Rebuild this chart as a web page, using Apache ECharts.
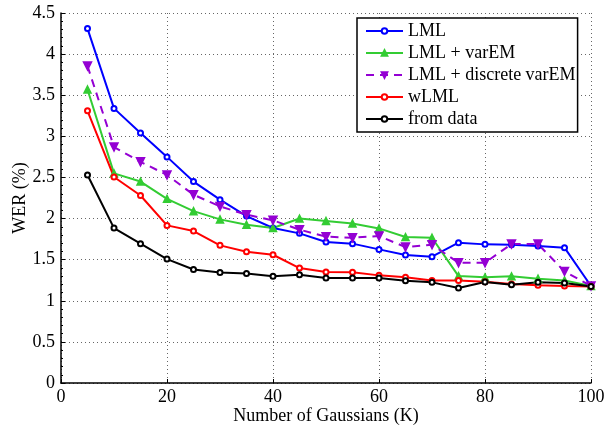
<!DOCTYPE html>
<html><head><meta charset="utf-8">
<script src="https://cdn.jsdelivr.net/npm/echarts@6/dist/echarts.min.js"></script>
<style>html,body{margin:0;padding:0;background:#fff}#c{width:606px;height:425px}</style>
</head><body><div id="c"></div>
<script>
const xs = [5,10,15,20,25,30,35,40,45,50,55,60,65,70,75,80,85,90,95,100];
const lml = [4.31,3.34,3.04,2.75,2.45,2.23,2.03,1.885,1.82,1.715,1.695,1.625,1.556,1.536,1.707,1.686,1.682,1.666,1.646,1.18];
const lmlVarEM = [3.57,2.55,2.45,2.24,2.09,1.99,1.925,1.885,2.0,1.97,1.94,1.88,1.775,1.767,1.30,1.285,1.297,1.269,1.248,1.18];
const lmlDiscrete = [3.855,2.87,2.69,2.53,2.29,2.148,2.047,1.978,1.865,1.78,1.767,1.787,1.653,1.682,1.463,1.463,1.69,1.69,1.357,1.18];
const wlml = [3.31,2.505,2.28,1.917,1.848,1.674,1.597,1.56,1.398,1.35,1.346,1.309,1.285,1.248,1.248,1.232,1.204,1.19,1.179,1.175];
const fromData = [2.53,1.884,1.695,1.507,1.38,1.345,1.333,1.297,1.317,1.276,1.276,1.276,1.244,1.224,1.155,1.228,1.196,1.224,1.216,1.175];
const names = ['LML','LML + varEM','LML + discrete varEM','wLML','from data'];

const FONT = 'Liberation Serif';
const pair = arr => xs.map((x,i)=>[x,arr[i]]);
const grid = {lineStyle:{color:'#666',type:[1,3],width:1}};

function mk(name, arr, color, symbol, opts) {
  return Object.assign({
    name, type:'line', data: pair(arr), symbol, symbolSize:5,
    lineStyle:{color, width:2},
    itemStyle:{color, borderColor:color, borderWidth:1.5},
    emphasis:{disabled:true}, z:3
  }, opts||{});
}

const chart = echarts.init(document.getElementById('c'), null, {renderer:'canvas'});
chart.setOption({
  animation:false,
  backgroundColor:'#fff',
  textStyle:{fontFamily:FONT},
  grid:{left:61, right:15, top:13, bottom:42, containLabel:false, outerBoundsMode:'none'},
  xAxis:{
    type:'value', min:0, max:100, interval:20,
    name:'Number of Gaussians (K)', nameLocation:'middle', nameGap:24, nameMoveOverlap:false,
    nameTextStyle:{fontFamily:FONT, fontSize:18, color:'#000'},
    axisLine:{onZero:false, lineStyle:{color:'#000', width:1.5}},
    axisTick:{inside:true, length:4, lineStyle:{color:'#000'}},
    axisLabel:{fontFamily:FONT, fontSize:18, color:'#000', margin:5},
    splitLine:{show:true, ...grid}
  },
  yAxis:{
    type:'value', min:0, max:4.5, interval:0.5,
    name:'WER (%)', nameLocation:'middle', nameGap:32, nameMoveOverlap:false,
    nameTextStyle:{fontFamily:FONT, fontSize:18, color:'#000'},
    axisLine:{show:true, onZero:false, lineStyle:{color:'#000', width:1.5}},
    axisTick:{show:true, inside:true, length:4, lineStyle:{color:'#000'}},
    minorTick:{show:true, splitNumber:5, length:2, lineStyle:{color:'#000'}},
    axisLabel:{fontFamily:FONT, fontSize:18, color:'#000', margin:6},
    splitLine:{show:true, ...grid}
  },
  legend:{
    orient:'vertical', left:357, top:18,
    data:names,
    backgroundColor:'#fff',
    borderColor:'#000', borderWidth:1.5,
    padding:[4,2,4,8],
    itemWidth:37, itemHeight:7, itemGap:4,
    textStyle:{fontFamily:FONT, fontSize:18, lineHeight:18, color:'#000'}
  },
  series:[
    mk(names[0], lml, '#0000ff', 'emptyCircle'),
    mk(names[1], lmlVarEM, '#33cc33', 'triangle', {symbolSize:7}),
    mk(names[2], lmlDiscrete, '#9400d3', 'triangle', {symbolSize:8, symbolRotate:180, lineStyle:{color:'#9400d3', width:2, type:[8,6]}}),
    mk(names[3], wlml, '#ff0000', 'emptyCircle'),
    mk(names[4], fromData, '#000000', 'emptyCircle')
  ]
});
</script></body></html>
